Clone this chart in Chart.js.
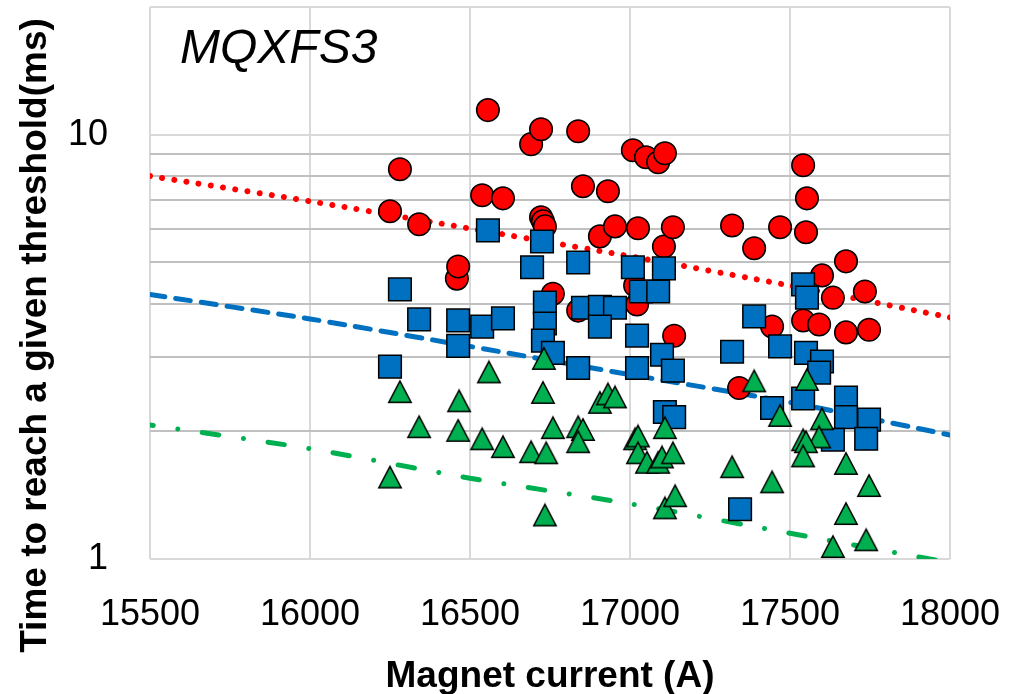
<!DOCTYPE html>
<html>
<head>
<meta charset="utf-8">
<script src="https://cdn.jsdelivr.net/npm/chart.js@4"></script>
<style>
  html, body { margin: 0; padding: 0; background: #fff; }
  #wrap { width: 1021px; height: 694px; position: relative; }
</style>
</head>
<body>
<div id="wrap"><canvas id="chart"></canvas></div>
<script>
// tick values / labels
const xTicks = [15500, 16000, 16500, 17000, 17500, 18000];
const yTicks = [1, 2, 3, 4, 5, 6, 7, 8, 9, 10, 20];
const yLabels = ['1', '10'];

const chartLabel = 'MQXFS3';
const xTitle = 'Magnet current (A)';
const yTitle = 'Time to reach a given threshold(ms)';

// red circles
const redCurrent = [16250, 16281, 16341, 16459, 16463, 16538, 16556, 16603, 16691, 16722, 16722, 16728, 16734, 16759, 16838, 16838, 16853, 16906, 16931, 16953, 17009, 17016, 17022, 17025, 17050, 17088, 17109, 17106, 17134, 17138, 17319, 17341, 17388, 17444, 17469, 17541, 17541, 17553, 17550, 17591, 17600, 17634, 17675, 17675, 17734, 17747];
const redTime = [6.60, 8.29, 6.15, 4.58, 4.89, 7.20, 11.43, 7.08, 9.50, 10.30, 6.39, 6.25, 6.08, 4.22, 10.19, 3.85, 7.56, 5.76, 7.36, 6.08, 9.19, 4.41, 3.98, 6.02, 8.85, 8.61, 9.04, 5.45, 6.05, 3.36, 6.11, 2.53, 5.40, 3.53, 6.05, 8.47, 3.65, 7.08, 5.89, 3.57, 4.66, 4.13, 5.03, 3.42, 4.27, 3.47];

// blue squares
const blueCurrent = [16250, 16281, 16341, 16463, 16463, 16538, 16556, 16603, 16694, 16725, 16734, 16734, 16728, 16759, 16838, 16838, 16853, 16906, 16953, 16906, 17009, 17034, 17088, 17106, 17022, 17022, 17100, 17134, 17109, 17138, 17319, 17344, 17388, 17444, 17469, 17541, 17553, 17541, 17550, 17600, 17591, 17675, 17675, 17747, 17634, 17738];
const blueTime = [2.84, 4.32, 3.67, 3.65, 3.18, 3.53, 5.95, 3.69, 4.87, 5.60, 4.02, 3.59, 3.27, 3.06, 5.00, 2.82, 3.91, 3.93, 3.91, 3.53, 4.87, 4.27, 4.27, 4.84, 3.36, 2.82, 3.03, 2.78, 2.22, 2.16, 3.08, 1.31, 3.73, 2.27, 3.17, 4.44, 4.13, 2.39, 3.06, 2.92, 2.75, 2.40, 2.16, 2.13, 1.91, 1.92];

// green triangles
const greenCurrent = [16250, 16281, 16341, 16466, 16463, 16538, 16559, 16603, 16691, 16731, 16728, 16738, 16759, 16734, 16838, 16853, 16838, 16906, 16931, 16953, 17016, 17025, 17025, 17053, 17088, 17100, 17134, 17109, 17109, 17141, 17319, 17388, 17444, 17469, 17553, 17600, 17591, 17541, 17550, 17541, 17675, 17747, 17675, 17738, 17634];
const greenTime = [1.56, 2.48, 2.05, 2.36, 2.01, 1.92, 2.76, 1.84, 1.79, 2.97, 2.47, 1.78, 2.04, 1.27, 2.05, 2.02, 1.89, 2.34, 2.45, 2.41, 1.92, 1.95, 1.78, 1.69, 1.69, 1.74, 1.78, 2.04, 1.32, 1.41, 1.65, 2.63, 1.52, 2.18, 2.65, 2.14, 1.94, 1.91, 1.89, 1.75, 1.68, 1.49, 1.28, 1.11, 1.07];

// trend lines, read at each 500 A gridline
const trendCurrent = [15500, 16000, 16500, 17000, 17500, 18000];
const redTrend = [7.99, 6.97, 6.01, 5.17, 4.41, 3.71];
const blueTrend = [4.20, 3.68, 3.17, 2.72, 2.34, 1.96];
const greenTrend = [2.07, 1.82, 1.55, 1.35, 1.15, 0.98];

const toPoints = (xs, ys) => xs.map((x, i) => ({ x: x, y: ys[i] }));

// excel-like triangle marker, centred on its bounding box
function triangleMarker() {
  const c = document.createElement('canvas');
  c.width = 26;
  c.height = 25;
  const g = c.getContext('2d');
  g.beginPath();
  g.moveTo(13, 1.8);
  g.lineTo(24.2, 23.2);
  g.lineTo(1.8, 23.2);
  g.closePath();
  g.fillStyle = '#00b050';
  g.fill();
  g.lineWidth = 1.5;
  g.strokeStyle = '#000';
  g.stroke();
  return c;
}

const FONT = "'Liberation Sans', Arial, sans-serif";

const textPlugin = {
  id: 'texts',
  afterDraw(chart) {
    const ctx = chart.ctx;
    const area = chart.chartArea;
    ctx.save();
    ctx.fillStyle = '#000';
    ctx.textBaseline = 'alphabetic';
    ctx.font = 'italic 48px ' + FONT;
    ctx.textAlign = 'left';
    ctx.fillText(chartLabel, 180, 63);
    ctx.font = 'bold 37px ' + FONT;
    ctx.textAlign = 'center';
    ctx.fillText(xTitle, (area.left + area.right) / 2, 687);
    ctx.translate(46, 335.5);
    ctx.rotate(-Math.PI / 2);
    ctx.fillText(yTitle, 0, 0);
    ctx.restore();
  }
};

const trendStyle = {
  showLine: true,
  pointRadius: 0,
  borderCapStyle: 'round',
  tension: 0.2,
  order: 4
};

new Chart(document.getElementById('chart'), {
  type: 'scatter',
  data: {
    datasets: [
      Object.assign({
        data: toPoints(trendCurrent, redTrend),
        borderColor: '#ff0000',
        borderWidth: 6,
        borderDash: [0.01, 12.3]
      }, trendStyle),
      Object.assign({
        data: toPoints(trendCurrent, blueTrend),
        borderColor: '#0070c0',
        borderWidth: 5,
        borderDash: [15, 11]
      }, trendStyle),
      Object.assign({
        data: toPoints(trendCurrent, greenTrend),
        borderColor: '#00b050',
        borderWidth: 5,
        borderDash: [16.7, 24.7, 0.01, 24.7],
        borderDashOffset: 13.2
      }, trendStyle),
      {
        data: toPoints(redCurrent, redTime),
        pointStyle: 'circle',
        pointRadius: 11.3,
        pointBackgroundColor: '#ff0000',
        pointBorderColor: '#000',
        pointBorderWidth: 1.5,
        clip: false,
        order: 3
      },
      {
        data: toPoints(blueCurrent, blueTime),
        pointStyle: 'rect',
        pointRadius: 16,
        pointBackgroundColor: '#0070c0',
        pointBorderColor: '#000',
        pointBorderWidth: 1.5,
        clip: false,
        order: 2
      },
      {
        data: toPoints(greenCurrent, greenTime),
        pointStyle: triangleMarker(),
        pointRadius: 12,
        clip: false,
        order: 1
      }
    ]
  },
  options: {
    responsive: true,
    maintainAspectRatio: false,
    animation: false,
    layout: { autoPadding: false, padding: { top: 7, right: 71, left: 0, bottom: 0 } },
    plugins: {
      legend: { display: false },
      tooltip: { enabled: false }
    },
    scales: {
      x: {
        type: 'linear',
        min: 15500,
        max: 18000,
        afterBuildTicks: s => { s.ticks = xTicks.map(v => ({ value: v })); },
        afterFit: s => {
          s.height = 135;
          s.paddingLeft = 0; s.paddingRight = 0;
        },
        grid: { color: '#d9d9d9', lineWidth: 2, drawTicks: false },
        border: { display: false },
        ticks: {
          padding: 34,
          color: '#000',
          autoSkip: false,
          maxRotation: 0,
          font: { family: FONT, size: 36 },
          callback: v => String(v)
        }
      },
      y: {
        type: 'logarithmic',
        min: 1,
        max: 20,
        afterBuildTicks: s => { s.ticks = yTicks.map(v => ({ value: v })); },
        afterFit: s => {
          s.width = 150;
          s.paddingTop = 0; s.paddingBottom = 0;
        },
        grid: {
          lineWidth: 2,
          drawTicks: false,
          color: c => (c.tick && [1, 10, 20].includes(c.tick.value)) ? '#d9d9d9' : '#c0c0c0'
        },
        border: { display: false },
        ticks: {
          padding: 42,
          color: '#000',
          autoSkip: false,
          font: { family: FONT, size: 36 },
          callback: v => yLabels.includes(String(v)) ? String(v) : ''
        }
      }
    }
  },
  plugins: [textPlugin]
});
</script>
</body>
</html>
